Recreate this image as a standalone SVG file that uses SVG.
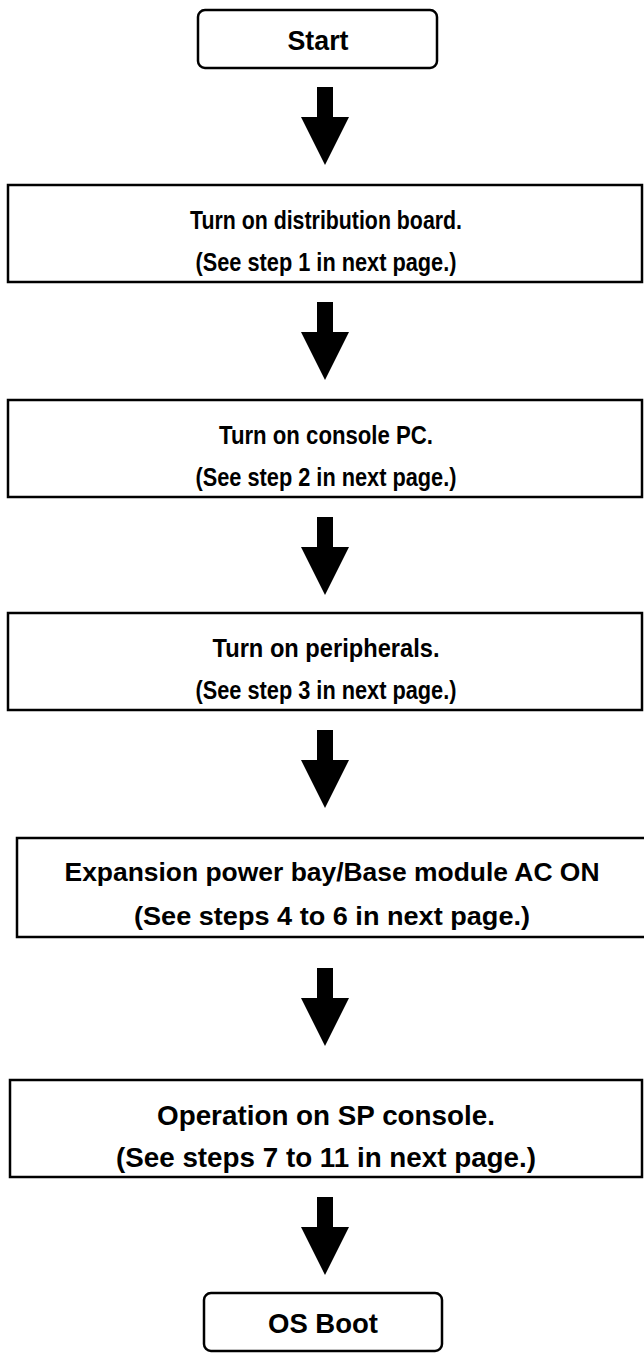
<svg xmlns="http://www.w3.org/2000/svg" width="644" height="1360" viewBox="0 0 644 1360">
<style>
.box{fill:#fff;stroke:#000;stroke-width:2.5}
.t{font-family:"Liberation Sans",Arial,sans-serif;font-weight:bold;font-size:26px;fill:#000;text-anchor:middle}
.big{font-size:28px}
.arr{fill:#000;stroke:none}
</style>
<defs>
<path id="arrow" d="M-8,0 H8 V30 H24 L0,78 L-24,30 H-8 Z"/>
</defs>
<rect width="644" height="1360" fill="#fff"/>
<g id="connectors">
<use href="#arrow" class="arr" x="325" y="87"/>
<use href="#arrow" class="arr" x="325" y="302"/>
<use href="#arrow" class="arr" x="325" y="517"/>
<use href="#arrow" class="arr" x="325" y="730"/>
<use href="#arrow" class="arr" x="325" y="968"/>
<use href="#arrow" class="arr" x="325" y="1197"/>
</g>
<g id="start">
<rect class="box" x="198" y="10" width="239" height="58" rx="7"/>
<text class="t big" x="318" y="50" textLength="61" lengthAdjust="spacingAndGlyphs">Start</text>
</g>
<g id="step1">
<rect class="box" x="8" y="185" width="634" height="97"/>
<text class="t" x="326" y="229" textLength="272" lengthAdjust="spacingAndGlyphs">Turn on distribution board.</text>
<text class="t" x="326" y="271" textLength="261" lengthAdjust="spacingAndGlyphs">(See step 1 in next page.)</text>
</g>
<g id="step2">
<rect class="box" x="8" y="400" width="634" height="97"/>
<text class="t" x="326" y="444" textLength="214" lengthAdjust="spacingAndGlyphs">Turn on console PC.</text>
<text class="t" x="326" y="486" textLength="261" lengthAdjust="spacingAndGlyphs">(See step 2 in next page.)</text>
</g>
<g id="step3">
<rect class="box" x="8" y="613" width="634" height="97"/>
<text class="t" x="326" y="657" textLength="227" lengthAdjust="spacingAndGlyphs">Turn on peripherals.</text>
<text class="t" x="326" y="699" textLength="261" lengthAdjust="spacingAndGlyphs">(See step 3 in next page.)</text>
</g>
<g id="step4">
<rect class="box" x="17" y="838" width="632" height="99"/>
<text class="t" x="332" y="881" textLength="535" lengthAdjust="spacingAndGlyphs">Expansion power bay/Base module AC ON</text>
<text class="t" x="332" y="925" textLength="396" lengthAdjust="spacingAndGlyphs">(See steps 4 to 6 in next page.)</text>
</g>
<g id="step5">
<rect class="box" x="10" y="1080" width="632" height="97"/>
<text class="t big" x="326" y="1125" textLength="338" lengthAdjust="spacingAndGlyphs">Operation on SP console.</text>
<text class="t big" x="326" y="1167" textLength="420" lengthAdjust="spacingAndGlyphs">(See steps 7 to 11 in next page.)</text>
</g>
<g id="osboot">
<rect class="box" x="204" y="1293" width="238" height="58" rx="7"/>
<text class="t big" x="323" y="1333" textLength="110" lengthAdjust="spacingAndGlyphs">OS Boot</text>
</g>
</svg>
